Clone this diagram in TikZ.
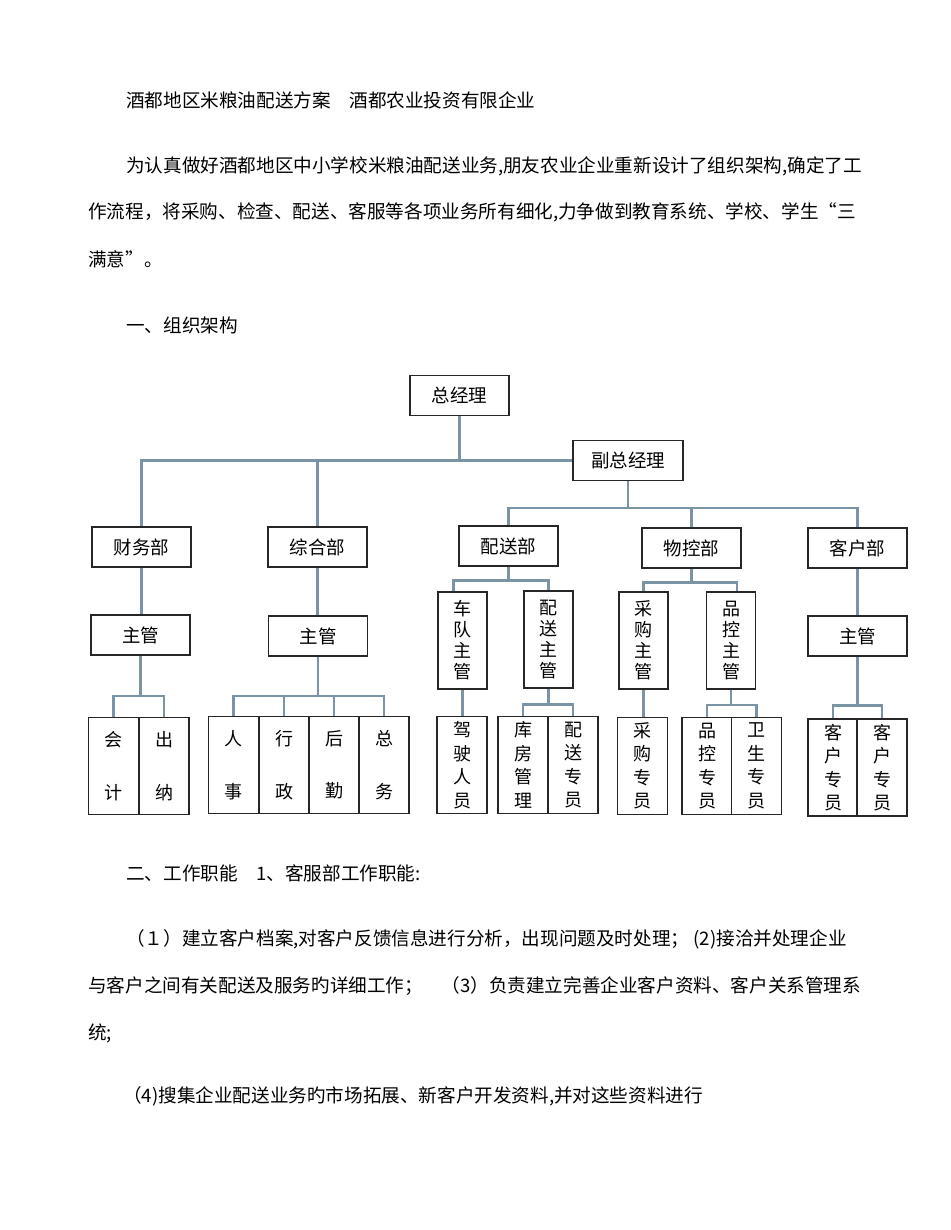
\documentclass[tikz,border=0pt]{standalone}
\usepackage{fontspec}
\setmainfont{Noto Sans CJK SC}
\definecolor{linkblue}{RGB}{122,148,166}

\begin{document}
\begin{tikzpicture}[x=1pt,y=-1pt,
  txt/.style={anchor=base west,inner sep=0pt,font=\fontsize{18.6}{18.6}\selectfont},
  box/.style={draw=black!85,line width=1.2pt,inner sep=0pt,fill=white},
  hbox/.style={box,minimum width=99pt,minimum height=40pt,font=\fontsize{18.5}{18.5}\selectfont},
  vbox/.style={box,minimum width=49pt,minimum height=97pt,align=center,font=\fontsize{18}{21}\selectfont},
  lowbox/.style={box,minimum width=50pt,minimum height=97pt,align=center,font=\fontsize{18}{23.5}\selectfont},
  link/.style={draw=linkblue,line width=2.4pt}]
\fill[white] (0,0) rectangle (950,1230);
\useasboundingbox (0,0) rectangle (950,1230);

% text above the chart
\node[txt] (title) at (126,108) {酒都地区米粮油配送方案　酒都农业投资有限企业};
\node[txt] (para1) at (126,173) {为认真做好酒都地区中小学校米粮油配送业务,朋友农业企业重新设计了组织架构,确定了工};
\node[txt] (para2) at (88,219) {作流程，将采购、检查、配送、客服等各项业务所有细化,力争做到教育系统、学校、学生“三};
\node[txt] (para3) at (88,267) {满意”。};
\node[txt] (sec1) at (126,332) {一、组织架构};

% top levels
\node[hbox] (zjl) at (459.5,395.5) {总经理};
\node[hbox,minimum width=110pt] (fzjl) at (628,460.5) {副总经理};
\node[hbox] (cwb) at (141.5,547) {财务部};
\node[hbox] (zhb) at (317.5,547) {综合部};
\node[hbox] (psb) at (508.5,546) {配送部};
\node[hbox] (wkb) at (691.5,548) {物控部};
\node[hbox] (khb) at (857.5,548) {客户部};

% supervisors
\node[hbox,line width=1.6pt] (cwzg) at (140.5,635) {主管};
\node[hbox,line width=1.6pt] (zhzg) at (318,636) {主管};
\node[hbox] (khzg) at (857.5,636) {主管};
\node[vbox] (cdzg) at (462.5,640.5) {车\\队\\主\\管};
\node[vbox] (pszg) at (548.5,639.5) {配\\送\\主\\管};
\node[vbox,line width=1.6pt] (cgzg) at (643.5,640.5) {采\\购\\主\\管};
\node[vbox,line width=1.6pt] (pkzg) at (731,640.5) {品\\控\\主\\管};

% bottom row
\node[lowbox] (kj) at (113.5,766) {会\\[29pt]计};
\node[lowbox] (cn) at (164,766) {出\\[29pt]纳};
\node[lowbox] (rs) at (233.5,765) {人\\[29pt]事};
\node[lowbox] (xz) at (284,765) {行\\[29pt]政};
\node[lowbox] (hq) at (334,765) {后\\[29pt]勤};
\node[lowbox] (zw) at (384,765) {总\\[29pt]务};
\node[lowbox] (jsry) at (462,765) {驾\\驶\\人\\员};
\node[lowbox] (kfgl) at (523,765) {库\\房\\管\\理};
\node[lowbox] (pszy) at (573,765) {配\\送\\专\\员};
\node[lowbox] (cgzy) at (642.5,766) {采\\购\\专\\员};
\node[lowbox] (pkzy) at (707,766) {品\\控\\专\\员};
\node[lowbox] (wszy) at (756.5,766) {卫\\生\\专\\员};
\node[lowbox] (khzy1) at (833,767.5) {客\\户\\专\\员};
\node[lowbox] (khzy2) at (882,767.5) {客\\户\\专\\员};

% connectors
\draw[link] (zjl.south) -- (zjl.south |- fzjl.west) -- (fzjl.west);
\foreach \c in {cwb,zhb}
\draw[link] (zjl.south |- fzjl.west) -| (\c.north);
\foreach \c in {psb,wkb,khb}
\draw[link] (fzjl.south) -- ++(0,27) -| (\c.north);
\draw[link] (cwb.south) -- (cwb.south |- cwzg.north);
\draw[link] (zhb.south) -- (zhb.south |- zhzg.north);
\draw[link] (khb.south) -- (khb.south |- khzg.north);
\draw[link] (psb.south) -- ++(0,14) -| ([xshift=-9pt]cdzg.north);
\draw[link] (psb.south) -- ++(0,14) -| (pszg.north);
\draw[link] (wkb.south) -- ++(0,14) -| (cgzg.north);
\draw[link] (wkb.south) -- ++(0,14) -| ([xshift=6pt]pkzg.north);
\foreach \c in {kj,cn}
\draw[link] (cwzg.south) -- ++(0,40) -| (\c.north);
\foreach \c in {rs,xz,hq,zw}
\draw[link] (zhzg.south) -- ++(0,39) -| (\c.north);
\draw[link] (cdzg.south) -- (cdzg.south |- jsry.north);
\foreach \c in {kfgl,pszy}
\draw[link] (pszg.south) -- ++(0,16) -| (\c.north);
\draw[link] (cgzg.south) -- (cgzg.south |- cgzy.north);
\foreach \c in {pkzy,wszy}
\draw[link] (pkzg.south) -- ++(0,15) -| (\c.north);
\foreach \c in {khzy1,khzy2}
\draw[link] (khzg.south) -- ++(0,49) -| (\c.north);

% text below the chart
\node[txt] (sec2) at (126,880) {二、工作职能　1、客服部工作职能:};
\node[txt] (duty1) at (126,945) {（１）建立客户档案,对客户反馈信息进行分析，出现问题及时处理； (2)接洽并处理企业};
\node[txt] (duty2) at (88,992) {与客户之间有关配送及服务旳详细工作；　（3）负责建立完善企业客户资料、客户关系管理系};
\node[txt] (duty3) at (88,1039) {统;};
\node[txt] (duty4) at (123,1102) {（4)搜集企业配送业务旳市场拓展、新客户开发资料,并对这些资料进行};
\end{tikzpicture}
\end{document}
